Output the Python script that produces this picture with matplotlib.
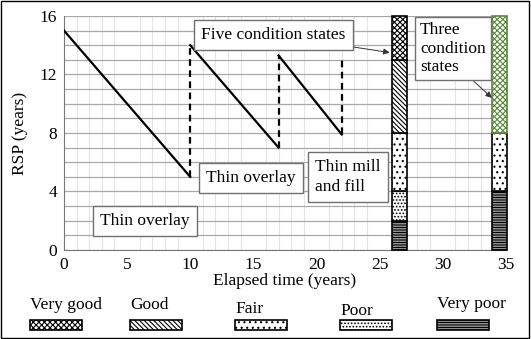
import numpy as np
import matplotlib.pyplot as plt
from matplotlib.patches import Rectangle

plt.rcParams['font.family'] = ['Liberation Serif', 'DejaVu Serif']
plt.rcParams['font.size'] = 12.5
plt.rcParams['hatch.linewidth'] = 0.8

# RSP after each treatment (years)
seg_t = [[0, 10], [10, 17], [17, 22]]
seg_rsp = [[15, 5], [14, 7], [13.3, 7.9]]
jump_t = [10, 17, 22]
jump_lo = [5, 7, 7.9]
jump_hi = [14, 13.3, 13.1]

# condition state bars
states = ['Very good', 'Good', 'Fair', 'Poor', 'Very poor']
hatches = {'Very good': 'xxxxxx', 'Good': '\\\\\\\\\\\\\\', 'Fair': '...',
           'Poor': '.....', 'Very poor': '----------'}
bar5_x = 26.6
bar5_bounds = [0, 2, 4, 8, 13, 16]
bar5_states = ['Very poor', 'Poor', 'Fair', 'Good', 'Very good']
bar3_x = 34.5
bar3_bounds = [0, 4, 8, 16]
bar3_states = ['Very poor', 'Fair', 'Very good']

fig = plt.figure(figsize=(5.31, 3.39), dpi=100)
ax = fig.add_axes([0.1205, 0.2625, 0.832, 0.6905])

ax.set_xlim(0, 35)
ax.set_ylim(0, 16)
ax.set_xticks(np.arange(0, 36, 5))
ax.set_yticks(np.arange(0, 17, 4))
ax.set_xticks(np.arange(0, 36, 1), minor=True)
ax.set_yticks(np.arange(0, 17, 1), minor=True)
ax.grid(which='minor', axis='x', color='#e4e4e4', lw=0.8)
ax.grid(which='minor', axis='y', color='#a8a8a8', lw=0.9)
ax.grid(which='major', axis='y', color='#a8a8a8', lw=0.9)
ax.set_axisbelow(True)
ax.tick_params(which='both', length=0, labelsize=12.5, pad=5)
for s in ['top', 'right']:
    ax.spines[s].set_visible(False)
for s in ['left', 'bottom']:
    ax.spines[s].set_color('#777777')
ax.set_xlabel('Elapsed time (years)', labelpad=0)
ax.set_ylabel('RSP (years)', labelpad=8)

for t, r in zip(seg_t, seg_rsp):
    ax.plot(t, r, color='black', lw=1.6, zorder=3)
for t, lo, hi in zip(jump_t, jump_lo, jump_hi):
    ax.plot([t, t], [lo, hi], color='black', lw=1.6, ls=(0, (3, 2)), zorder=3)

def stack(x, bounds, names, top_edge='black'):
    for i, name in enumerate(names):
        ec = top_edge if i == len(names) - 1 else 'black'
        ax.bar(x, bounds[i + 1] - bounds[i], bottom=bounds[i], width=1.2,
               color='white', edgecolor=ec, hatch=hatches[name], lw=1.2,
               zorder=4, clip_on=False)

stack(bar5_x, bar5_bounds, bar5_states)
stack(bar3_x, bar3_bounds, bar3_states, top_edge='#5a8a3a')

box = dict(boxstyle='square,pad=0.4', fc='white', ec='#707070', lw=1.0)
ax.text(6.4, 2.0, 'Thin overlay', ha='center', va='center', bbox=box, zorder=5)
ax.text(14.8, 4.9, 'Thin overlay', ha='center', va='center', bbox=box, zorder=5)
ax.text(19.9, 5.0, 'Thin mill\nand fill', ha='left', va='center', bbox=box,
        linespacing=1.3, zorder=5)
ax.annotate('Five condition states', xy=(25.8, 13.5), xytext=(16.6, 14.7),
            ha='center', va='center', bbox=box, zorder=5,
            arrowprops=dict(arrowstyle='-|>', color='#333333', lw=0.7,
                            mutation_scale=9, shrinkA=0, shrinkB=0))
ax.annotate('Three\ncondition\nstates', xy=(33.9, 10.4), xytext=(28.2, 13.75),
            ha='left', va='center', linespacing=1.2, zorder=5,
            bbox=dict(box, boxstyle='square,pad=0.3'),
            arrowprops=dict(arrowstyle='-|>', color='#333333', lw=0.7,
                            mutation_scale=9, shrinkA=0, shrinkB=0,
                            relpos=(0.72, 0.0)))

# legend row under the axis
leg_x = [30, 130, 235, 340, 437]
leg_y = [305, 305, 309, 311, 304]
for name, x, y in zip(states, leg_x, leg_y):
    fig.text(x / 531, 1 - y / 339, name, ha='left', va='center', fontsize=12.5)
    fig.add_artist(Rectangle((x / 531, 1 - 330 / 339), 52 / 531, 10 / 339,
                             transform=fig.transFigure, fc='white', ec='black',
                             lw=1.2, hatch=hatches[name]))

fig.add_artist(Rectangle((0.002, 0.003), 0.995, 0.994, transform=fig.transFigure,
                         fill=False, ec='black', lw=1.0))

fig.savefig('out.png', dpi=100)
